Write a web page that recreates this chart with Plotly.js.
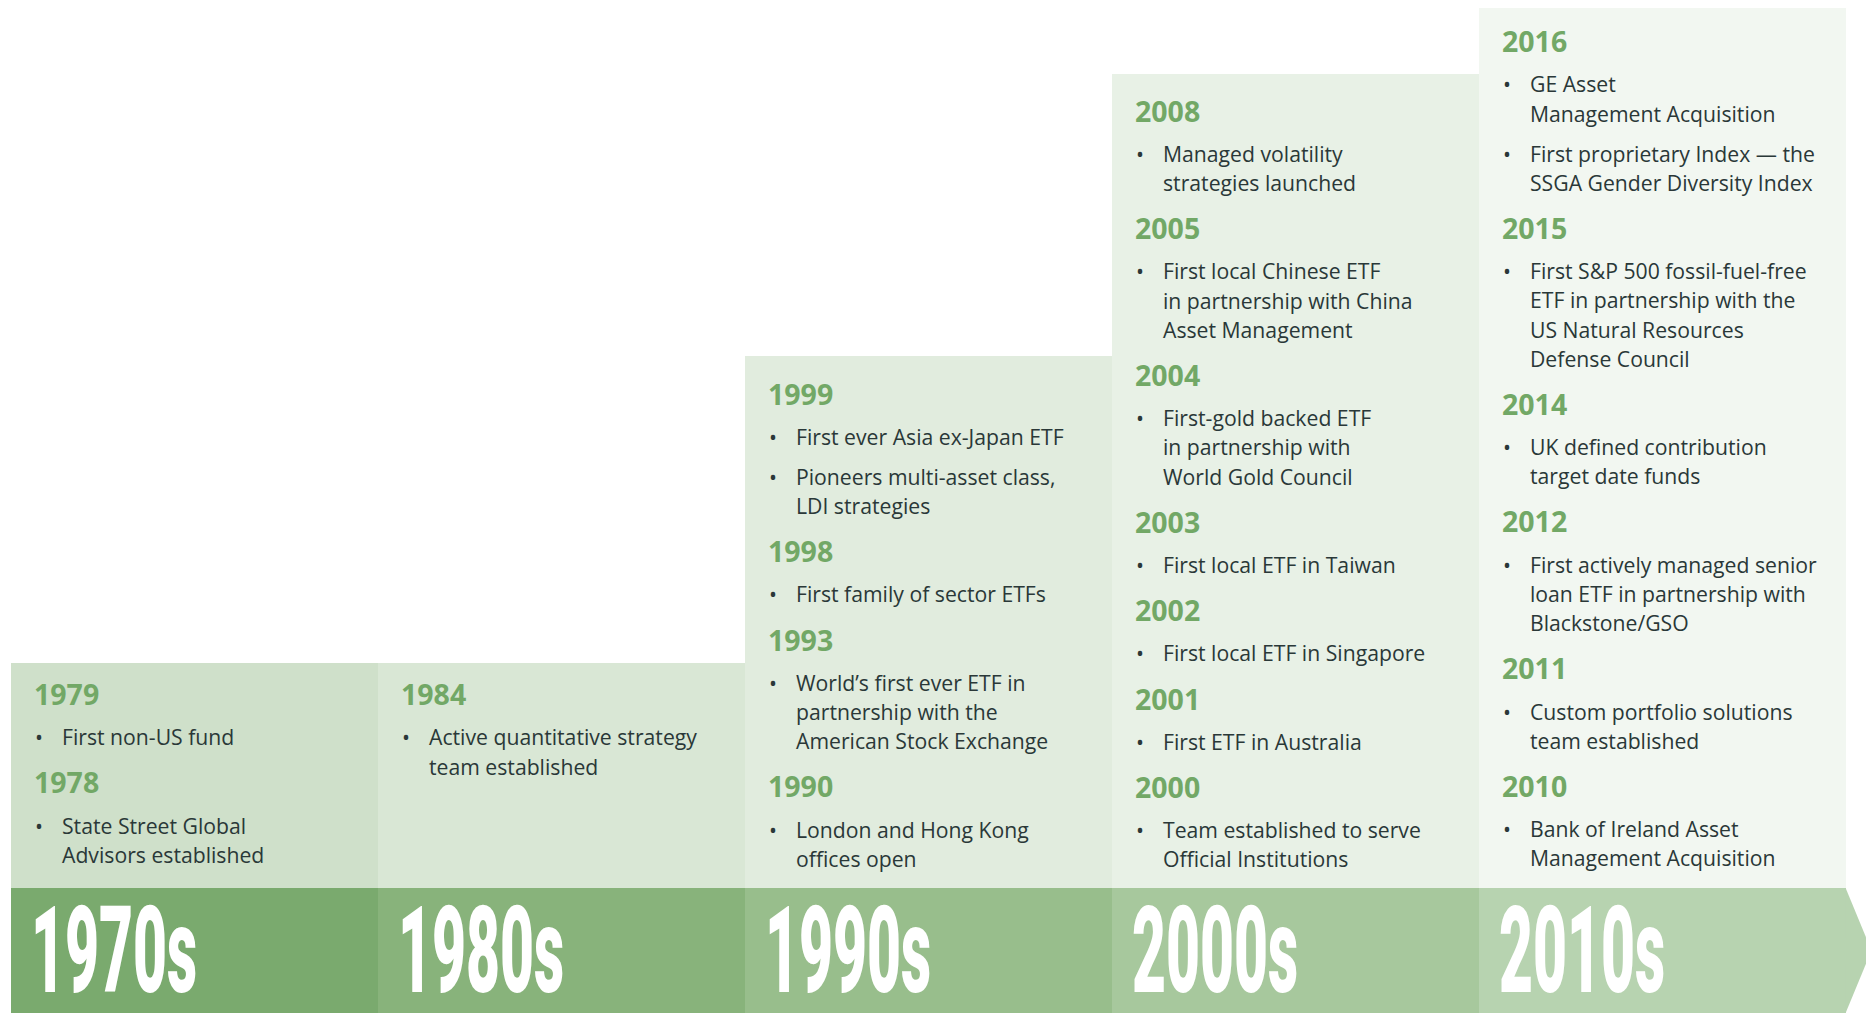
<!DOCTYPE html>
<html><head><meta charset="utf-8">
<script src="https://cdn.plot.ly/plotly-3.0.1.min.js"></script>
<style>
html,body{margin:0;padding:0;background:#fff;}
#chart{width:1866px;height:1013px;}
#chart g.annotation[data-index="0"] text,
#chart g.annotation[data-index="1"] text,
#chart g.annotation[data-index="2"] text,
#chart g.annotation[data-index="3"] text,
#chart g.annotation[data-index="4"] text{
  transform-box: fill-box; transform-origin: 0% 50%;
  transform: scaleX(var(--decade-sx, 0.47));
}
</style>
</head><body><div id="chart"></div>
<script>
// ---- data ----
const decades = ['1970s', '1980s', '1990s', '2000s', '2010s'];
const bandHeight = [125, 125, 125, 125, 125];
const panelHeight = [225, 225, 532, 814, 880];

const events1970s = [
  ['1979', [['First non-US fund']]],
  ['1978', [['State Street Global', 'Advisors established']]]
];
const events1980s = [
  ['1984', [['Active quantitative strategy', 'team established']]]
];
const events1990s = [
  ['1999', [['First ever Asia ex-Japan ETF'], ['Pioneers multi-asset class,', 'LDI strategies']]],
  ['1998', [['First family of sector ETFs']]],
  ['1993', [['World\u2019s first ever ETF in', 'partnership with the', 'American Stock Exchange']]],
  ['1990', [['London and Hong Kong', 'offices open']]]
];
const events2000s = [
  ['2008', [['Managed volatility', 'strategies launched']]],
  ['2005', [['First local Chinese ETF', 'in partnership with China', 'Asset Management']]],
  ['2004', [['First-gold backed ETF', 'in partnership with', 'World Gold Council']]],
  ['2003', [['First local ETF in Taiwan']]],
  ['2002', [['First local ETF in Singapore']]],
  ['2001', [['First ETF in Australia']]],
  ['2000', [['Team established to serve', 'Official Institutions']]]
];
const events2010s = [
  ['2016', [['GE Asset', 'Management Acquisition'], ['First proprietary Index \u2014 the', 'SSGA Gender Diversity Index']]],
  ['2015', [['First S&P 500 fossil-fuel-free', 'ETF in partnership with the', 'US Natural Resources', 'Defense Council']]],
  ['2014', [['UK defined contribution', 'target date funds']]],
  ['2012', [['First actively managed senior', 'loan ETF in partnership with', 'Blackstone/GSO']]],
  ['2011', [['Custom portfolio solutions', 'team established']]],
  ['2010', [['Bank of Ireland Asset', 'Management Acquisition']]]
];
const eventsByDecade = [events1970s, events1980s, events1990s, events2000s, events2010s];

// ---- styling / layout constants ----
const W = 1866, H = 1013;
const COL_LEFT = 10.7, COL_W = 367.06, ARROW_DEPTH = 25.5;
const DECADE_TARGET_W = 166;  // rendered box width of the first decade label
const bandColors = ['#7aaa6e', '#88b37b', '#98be8c', '#a7c89d', '#b7d3b0'];
const panelColors = ['#cfe0ca', '#d9e7d5', '#e1ecde', '#e8f1e6', '#f2f7f1'];
const yearColor = '#72a866';
const textColor = '#2a3838';
const firstYearTop = [694, 694, 393.5, 110.5, 41];   // pixel rows of first heading
const YEAR_TO_BULLET = 42.8, LINE_H = 29.2, BULLET_GAP = 40, BULLET_TO_YEAR = 45.6;
const BODY_FONT = 'Open Sans, Noto Sans, sans-serif';
const BODY_SIZE = 21.2, YEAR_SIZE = 28.5;

const xs = decades.map((d, i) => i);
const xLo = -0.5 - COL_LEFT / COL_W;
const xHi = xLo + W / COL_W;

const lastBand = bandHeight[bandHeight.length - 1];
const lastX = xs[xs.length - 1] + 0.5;

const traces = [
  {
    type: 'bar', x: xs, y: bandHeight, base: 0, width: 1,
    marker: {color: bandColors, line: {width: 0}},
    hoverinfo: 'skip', showlegend: false
  },
  {
    type: 'bar', x: xs, y: panelHeight, base: bandHeight, width: 1,
    marker: {color: panelColors, line: {width: 0}},
    hoverinfo: 'skip', showlegend: false
  },
  {
    type: 'scatter', mode: 'lines',
    x: [lastX - 0.001, lastX + ARROW_DEPTH / COL_W, lastX - 0.001, lastX - 0.001],
    y: [lastBand, lastBand / 2, 0, lastBand],
    fill: 'toself', fillcolor: bandColors[bandColors.length - 1],
    line: {width: 0, color: bandColors[bandColors.length - 1]},
    hoverinfo: 'skip', showlegend: false
  }
];

const annotations = [];
function esc(s) { return s.replace(/&/g, '&amp;'); }

// decade labels first (indices 0..4, condensed through CSS)
decades.forEach((dec, i) => {
  annotations.push({
    x: i - 0.5, y: bandHeight[i] / 2 - 0.5, xref: 'x', yref: 'y', xanchor: 'left', yanchor: 'middle',
    xshift: 18, showarrow: false, text: dec,
    font: {family: 'Roboto, DejaVu Sans, sans-serif', size: 121, weight: 900, color: '#ffffff'}
  });
});

decades.forEach((dec, i) => {
  const x0 = i - 0.5;
  let py = firstYearTop[i];
  eventsByDecade[i].forEach((ev, k) => {
    if (k > 0) py += BULLET_TO_YEAR;
    annotations.push({
      x: x0, y: H - py, xref: 'x', yref: 'y', xanchor: 'left', yanchor: 'middle',
      xshift: 21, showarrow: false, text: ev[0],
      font: {family: BODY_FONT, size: YEAR_SIZE, weight: 700, color: yearColor}
    });
    ev[1].forEach((item, j) => {
      py += (j === 0 ? YEAR_TO_BULLET : BULLET_GAP);
      annotations.push({
        x: x0, y: H - py, xref: 'x', yref: 'y', xanchor: 'center', yanchor: 'middle',
        xshift: 28, showarrow: false, text: '\u2022',
        font: {family: BODY_FONT, size: BODY_SIZE, color: textColor}
      });
      item.forEach((line, l) => {
        if (l > 0) py += LINE_H;
        annotations.push({
          x: x0, y: H - py, xref: 'x', yref: 'y', xanchor: 'left', yanchor: 'middle',
          xshift: 49, showarrow: false, text: esc(line),
          font: {family: BODY_FONT, size: BODY_SIZE, color: textColor}
        });
      });
    });
  });
});

const layout = {
  width: W, height: H,
  margin: {l: 0, r: 0, t: 0, b: 0, pad: 0},
  paper_bgcolor: '#ffffff', plot_bgcolor: '#ffffff',
  barmode: 'overlay', bargap: 0,
  xaxis: {range: [xLo, xHi], visible: false, fixedrange: true},
  yaxis: {range: [0, H], visible: false, fixedrange: true},
  annotations: annotations,
  showlegend: false
};

Plotly.newPlot('chart', traces, layout, {displayModeBar: false, staticPlot: true}).then(gd => {
  const t = gd.querySelector('g.annotation[data-index="0"] text.annotation-text');
  if (t) {
    const w = t.getBBox().width;
    if (w > 0) gd.style.setProperty('--decade-sx', (DECADE_TARGET_W / w).toFixed(4));
  }
});
</script>
</body></html>
